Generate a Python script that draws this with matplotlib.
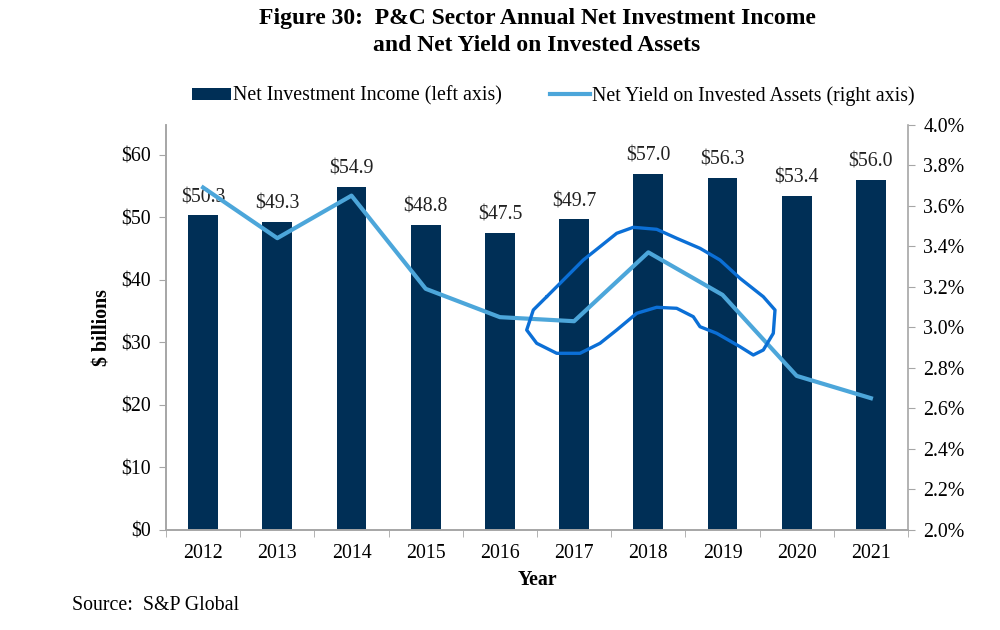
import matplotlib
matplotlib.use("Agg")
import matplotlib.pyplot as plt
import matplotlib.transforms as mtransforms
from matplotlib.ticker import FuncFormatter, FixedLocator

years = ["2012", "2013", "2014", "2015", "2016", "2017", "2018", "2019", "2020", "2021"]
income = [50.3, 49.3, 54.9, 48.8, 47.5, 49.7, 57.0, 56.3, 53.4, 56.0]
net_yield = [3.69, 3.44, 3.65, 3.19, 3.05, 3.03, 3.37, 3.16, 2.76, 2.65]

# hand-drawn highlight loop (figure pixels)
loop_px = [(546.7, 296.7), (566.7, 276.7), (583.3, 260), (600, 246.7), (616.7, 233.3),
           (633.3, 227.3), (656.7, 229.3), (676.7, 238.3), (700, 248.3), (720, 260),
           (740, 278.3), (763.3, 296.7), (775, 310), (773.3, 333.3), (763.3, 350),
           (753.3, 355), (740, 346.7), (716.7, 333.3), (700, 326.7), (693.3, 316.7),
           (676.7, 308.3), (656.7, 307.3), (636.7, 313.3), (616.7, 330), (600, 343.3),
           (580, 353.3), (556.7, 353.3), (536.7, 343.3), (526.7, 330), (533.3, 310),
           (546.7, 296.7)]

navy = "#002f56"
light = "#4ca6da"
grey = "#a6a6a6"
fs = 14.3

plt.rcParams["font.family"] = "Liberation Serif"

fig = plt.figure(figsize=(10, 6.3), dpi=100)
ax = fig.add_axes([0.166, 0.159, 0.742, 0.643])
ax2 = ax.twinx()

x = list(range(len(years)))
bars = ax.bar(x, income, width=0.4, color=navy, label="Net Investment Income (left axis)", zorder=2)
for xi, v in zip(x, income):
    ax.text(xi, v + 1.3, "$%.1f" % v, ha="center", va="bottom", fontsize=fs, color="#222222")

ax.set_xlim(-0.5, len(years) - 0.5)
ax.set_ylim(0, 64.8)
ax.set_yticks(range(0, 61, 10))
ax.yaxis.set_major_formatter(FuncFormatter(lambda v, p: "$%d" % v))
ax.set_xticks(x)
ax.set_xticklabels(years)
ax.xaxis.set_minor_locator(FixedLocator([i - 0.5 for i in range(len(years) + 1)]))
ax.tick_params(axis="x", which="major", length=0, pad=10, labelsize=fs)
ax.tick_params(axis="x", which="minor", length=5, color=grey)
ax.tick_params(axis="y", length=5, color=grey, labelsize=fs, pad=6)
ax.set_xlabel("Year", fontsize=fs, fontweight="bold", labelpad=5)
ax.set_ylabel("$ billions", fontsize=fs, fontweight="bold", labelpad=6)

ax2.plot(x, net_yield, color=light, lw=3, label="Net Yield on Invested Assets (right axis)", zorder=3)
ax2.set_ylim(2.0, 4.0)
ax2.set_yticks([2.0 + 0.2 * i for i in range(11)])
ax2.yaxis.set_major_formatter(FuncFormatter(lambda v, p: "%.1f%%" % v))
ax2.tick_params(axis="y", length=5, color=grey, labelsize=fs, pad=6)

for a in (ax, ax2):
    a.spines["top"].set_visible(False)
    for s in ("left", "right", "bottom"):
        a.spines[s].set_color(grey)
        a.spines[s].set_linewidth(1.2)
ax.spines["right"].set_visible(False)

# highlight loop
tr = mtransforms.Affine2D().scale(1 / 1000, -1 / 630).translate(0, 1) + fig.transFigure
lx = [p[0] for p in loop_px]
ly = [p[1] for p in loop_px]
fig.add_artist(plt.Line2D(lx, ly, transform=tr, color="#0b6fd6", lw=2.4,
                          solid_joinstyle="round", solid_capstyle="round"))

h1, l1 = ax.get_legend_handles_labels()
h2, l2 = ax2.get_legend_handles_labels()
fig.legend(h1 + h2, l1 + l2, loc="center", bbox_to_anchor=(0.553, 0.848), ncol=2,
           frameon=False, fontsize=fs, handlelength=2.0, handletextpad=0.1,
           columnspacing=2.4, handleheight=0.55)

fig.text(0.537, 0.971, "Figure 30:  P&C Sector Annual Net Investment Income",
         ha="center", va="center", fontsize=17, fontweight="bold")
fig.text(0.537, 0.928, "and Net Yield on Invested Assets",
         ha="center", va="center", fontsize=17, fontweight="bold")
fig.text(0.072, 0.039, "Source:  S&P Global", ha="left", va="center", fontsize=fs)

fig.savefig("out.png", dpi=100)
